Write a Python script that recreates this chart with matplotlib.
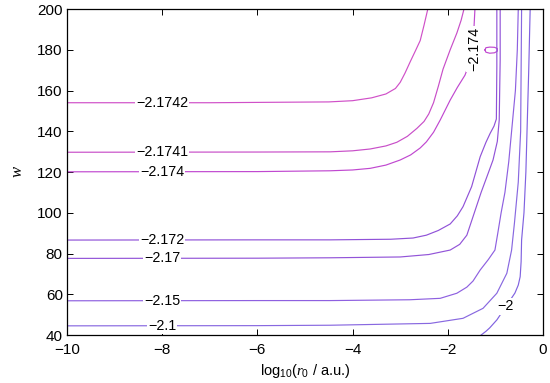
import matplotlib
matplotlib.use("Agg")
import matplotlib.pyplot as plt

plt.rcParams['font.family'] = ['Liberation Sans', 'DejaVu Sans']
plt.rcParams['mathtext.fontset'] = 'custom'
plt.rcParams['mathtext.it'] = 'Liberation Serif:italic'
plt.rcParams['mathtext.rm'] = 'Liberation Sans'

# contour lines: (log10 r0, w)
c_21742_x = [-10, -7, -4.5, -4.0, -3.6, -3.3, -3.1, -3.0, -2.9, -2.79, -2.68, -2.58, -2.5, -2.42]
c_21742_y = [154.0, 154.0, 154.4, 155.0, 156.4, 158.3, 161.0, 164.0, 168.5, 174.1, 179.5, 184.5, 192.0, 200]

c_21741_x = [-10, -6, -4.47, -4.0, -3.63, -3.3, -3.07, -2.85, -2.65, -2.5, -2.4, -2.3, -2.2,
             -2.1, -1.95, -1.81, -1.72, -1.66]
c_21741_y = [129.7, 129.8, 129.9, 130.4, 131.3, 132.8, 134.6, 137.5, 141.4, 144.8, 148.5, 154.0, 162.0,
             170.5, 180.0, 188.2, 194.5, 200]

c_2174_x = [-10, -6, -4.47, -4.0, -3.63, -3.3, -3.0, -2.78, -2.58, -2.45, -2.3, -2.16, -1.95,
            -1.8, -1.64, -1.55, -1.47, -1.45, -1.43]
c_2174_y = [120.1, 120.2, 120.6, 121.0, 121.8, 123.4, 125.9, 128.4, 131.8, 134.8, 139.5, 145.5, 155.3,
            161.5, 167.5, 173, 180, 191, 200]

loop_x = [-1.22, -1.20, -1.12, -1.02, -0.96, -0.96, -1.02, -1.12, -1.20, -1.22]
loop_y = [179.9, 178.8, 178.3, 178.5, 179.3, 180.6, 181.2, 181.3, 181.0, 179.9]

c_2172_x = [-10, -6, -4.47, -3.2, -2.73, -2.45, -2.2, -1.95, -1.80, -1.68, -1.5, -1.32, -1.2,
            -1.11, -1.03, -0.98, -0.97, -0.97]
c_2172_y = [86.6, 86.7, 86.7, 87.0, 87.6, 89.0, 91.3, 94.5, 98.5, 103, 112.8, 127.5, 134.5,
            139, 142.5, 146, 171.7, 200]

c_217_x = [-10, -6, -4.47, -3.0, -2.4, -1.95, -1.75, -1.6, -1.47, -1.3, -1.15, -1.05, -0.96,
           -0.92, -0.90, -0.90]
c_217_y = [77.6, 77.7, 77.9, 78.3, 79.5, 81.7, 84.5, 89, 98.1, 110, 119.5, 125.9, 135,
           145.5, 175, 200]

c_215_x = [-10, -6, -4.47, -2.8, -2.16, -1.81, -1.6, -1.47, -1.32, -1.15, -1.01, -0.95, -0.88,
           -0.80, -0.72, -0.66, -0.58, -0.54, -0.52]
c_215_y = [56.8, 56.9, 56.9, 57.3, 58.0, 60.5, 63.5, 66.5, 71.9, 77.0, 81.7, 90, 100,
           110, 125, 140, 160, 180, 200]

c_21_x = [-10, -6, -4.47, -2.37, -1.68, -1.26, -0.97, -0.76, -0.66, -0.60, -0.52, -0.47,
          -0.46, -0.45]
c_21_y = [44.5, 44.6, 44.8, 45.7, 48.2, 53.1, 60.5, 70.3, 81.7, 95, 115, 140, 170, 200]

c_2_x = [-1.30, -1.20, -1.12, -0.97, -0.78, -0.59, -0.52, -0.48, -0.46, -0.45, -0.40, -0.36,
         -0.33, -0.30, -0.27]
c_2_y = [40, 41.8, 43.5, 47.4, 54.0, 60.6, 64.5, 68.6, 76, 86.6, 100, 120,
         145, 170, 200]

curves = [
    (c_21742_x, c_21742_y, '#d050c8'),
    (c_21741_x, c_21741_y, '#c84ec8'),
    (c_2174_x, c_2174_y, '#c048d0'),
    (loop_x, loop_y, '#c048d0'),
    (c_2172_x, c_2172_y, '#9052d8'),
    (c_217_x, c_217_y, '#9254d8'),
    (c_215_x, c_215_y, '#8e60e0'),
    (c_21_x, c_21_y, '#8868e0'),
    (c_2_x, c_2_y, '#8062e0'),
]

# inline labels: text, x, y, rotation
labels = [
    ('\u22122.1742', -8.0, 154.0, 0),
    ('\u22122.1741', -8.0, 129.7, 0),
    ('\u22122.174', -8.0, 120.1, 0),
    ('\u22122.172', -8.0, 86.6, 0),
    ('\u22122.17', -8.0, 77.6, 0),
    ('\u22122.15', -8.0, 56.8, 0),
    ('\u22122.1', -8.0, 44.5, 0),
    ('\u22122.174', -1.44, 180.5, 90),
    ('\u22122', -0.78, 54.0, 0),
]

fig = plt.figure(figsize=(5.5, 3.83), dpi=100)
ax = fig.add_axes([0.1218, 0.1253, 0.8655, 0.8512])

for xs, ys, col in curves:
    ax.plot(xs, ys, color=col, lw=0.85)

for txt, x, y, rot in labels:
    ax.text(x, y, txt, ha='center', va='center', rotation=rot, fontsize=10.3,
            bbox=dict(facecolor='white', edgecolor='none', pad=0.8))

ax.set_xlim(-10, 0)
ax.set_ylim(40, 200)
ax.set_xticks([-10, -8, -6, -4, -2, 0])
ax.set_yticks([40, 60, 80, 100, 120, 140, 160, 180, 200])
ax.tick_params(direction='in', top=True, right=True, length=4, width=0.7, labelsize=11)
ax.tick_params(axis='x', pad=6)
ax.tick_params(axis='y', pad=3)
ax.xaxis.set_major_formatter(plt.FuncFormatter(lambda v, p: f'{v:.0f}'.replace('-', '\u2212')))
for s in ax.spines.values():
    s.set_linewidth(0.9)

ax.set_xlabel(r'log$_{10}$($r_0$ / a.u.)', fontsize=10.5, labelpad=3)
ax.set_ylabel(r'$w$', fontsize=12, labelpad=9)

fig.savefig('out.png', dpi=100)
